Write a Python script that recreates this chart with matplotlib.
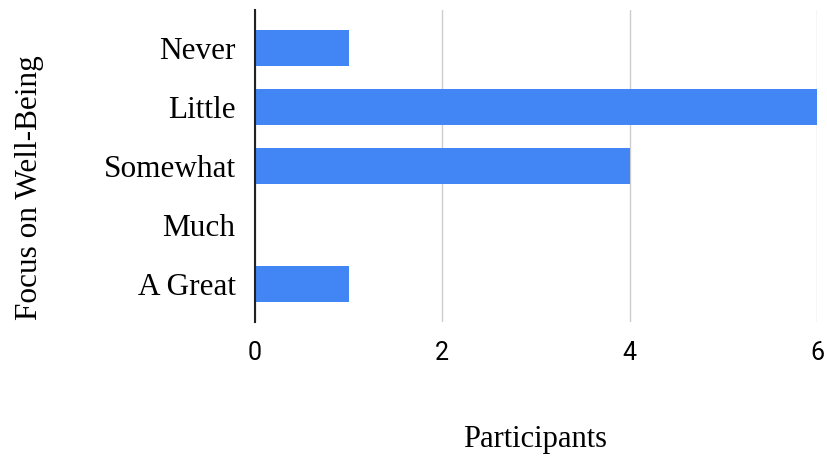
import matplotlib
matplotlib.use('Agg')
import matplotlib.pyplot as plt

# Datos del grafico
categorias = ['Never', 'Little', 'Somewhat', 'Much', 'A Great']
participantes = [1, 6, 4, 0, 1]
ticks_x = [0, 2, 4, 6]

fig = plt.figure(figsize=(8.27, 4.59), dpi=100)
ax = fig.add_axes([255 / 827, 1 - 322 / 459, (817 - 255) / 827, (322 - 10) / 459])

ax.barh(range(len(categorias)), participantes, height=0.61, color='#4285f4', zorder=3)

ax.set_xlim(0, 6)
ax.set_ylim(4.65, -0.65)
ax.set_yticks(range(len(categorias)))
ax.set_yticklabels(categorias, fontfamily='Liberation Serif', fontsize=22.5)
ax.set_xticks(ticks_x)
ax.set_xticklabels([str(t) for t in ticks_x], fontfamily='Roboto', fontsize=18)

ax.grid(axis='x', color='#cccccc', linewidth=1, zorder=0)
ax.tick_params(axis='y', length=0, pad=14)
ax.tick_params(axis='x', length=0, pad=14)

for lado in ['top', 'right', 'bottom']:
    ax.spines[lado].set_visible(False)
ax.spines['left'].set_color('#222222')
ax.spines['left'].set_linewidth(1.5)
ax.spines['left'].set_zorder(4)

fig.text(535 / 827, 1 - 440 / 459, 'Participants', ha='center', va='center',
         fontfamily='Liberation Serif', fontsize=22)
fig.text(30 / 827, 1 - 188 / 459, 'Focus on Well-Being', ha='center', va='center',
         rotation=90, fontfamily='Liberation Serif', fontsize=22.5)

plt.savefig('out.png', dpi=100)
plt.close()
